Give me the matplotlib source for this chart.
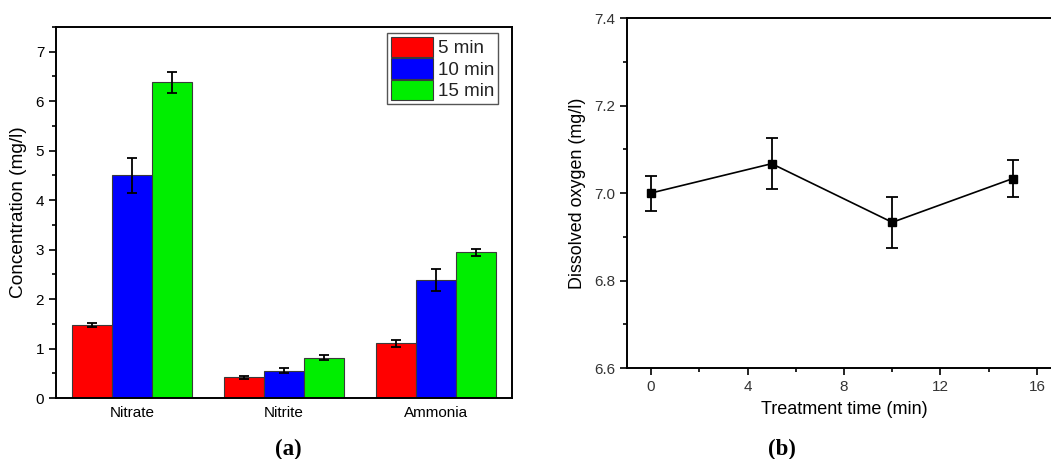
import numpy as np
import matplotlib
matplotlib.use('Agg')
import matplotlib.pyplot as plt
from matplotlib.ticker import MultipleLocator

plt.rcParams['font.family'] = ['Liberation Sans', 'DejaVu Sans']

# (a) 浓度柱状图数据
species = ['Nitrate', 'Nitrite', 'Ammonia']
series_names = ['5 min', '10 min', '15 min']
conc_5 = [1.47, 0.42, 1.11]
conc_10 = [4.50, 0.55, 2.39]
conc_15 = [6.38, 0.81, 2.95]
err_5 = [0.04, 0.03, 0.07]
err_10 = [0.35, 0.05, 0.22]
err_15 = [0.21, 0.05, 0.07]
bar_colors = ['#ff0000', '#0000ff', '#00ee00']

# (b) 溶解氧数据
treat_time = [0, 5, 10, 15]
dissolved_o2 = [7.000, 7.067, 6.933, 7.033]
do_err = [0.040, 0.058, 0.058, 0.042]

fig = plt.figure(figsize=(10.51, 4.59), dpi=100)
W, H = 1051, 459

# 面板 a
ax1 = fig.add_axes([56 / W, 1 - 398 / H, 456 / W, 371 / H])
x = np.arange(1, len(species) + 1)
bw = 0.265
for k, (vals, errs) in enumerate([(conc_5, err_5), (conc_10, err_10), (conc_15, err_15)]):
    ax1.bar(x + (k - 1) * bw, vals, width=bw, color=bar_colors[k],
            edgecolor='#3a3a3a', linewidth=0.8, label=series_names[k],
            yerr=errs, capsize=3.5, error_kw=dict(elinewidth=1.3, capthick=1.3, ecolor='black'))
ax1.set_xlim(0.5, 3.5)
ax1.set_ylim(0, 7.5)
ax1.set_xticks(x)
ax1.set_xticklabels(species)
ax1.yaxis.set_major_locator(MultipleLocator(1))
ax1.yaxis.set_minor_locator(MultipleLocator(0.5))
ax1.tick_params(axis='y', which='major', direction='out', length=5, width=1.2, labelsize=11)
ax1.tick_params(axis='y', which='minor', direction='out', length=3, width=1.2)
ax1.tick_params(axis='x', length=0, labelsize=11, pad=6)
ax1.set_ylabel('Concentration (mg/l)', fontsize=13.7, labelpad=6)
for sp in ax1.spines.values():
    sp.set_linewidth(1.4)
leg = ax1.legend(loc='upper right', bbox_to_anchor=((498 - 56) / 456, (398 - 33) / 371),
                 fontsize=13.5, handlelength=2.25, handleheight=1.3,
                 handletextpad=0.25, borderpad=0.2, labelspacing=0.05,
                 fancybox=False, framealpha=1, borderaxespad=0)
leg.get_frame().set_edgecolor('#555555')
leg.get_frame().set_linewidth(1.0)
for t in leg.get_texts():
    t.set_color('#222222')

# 面板 b
ax2 = fig.add_axes([627 / W, 1 - 368 / H, 434 / W, 350 / H])
ax2.errorbar(treat_time, dissolved_o2, yerr=do_err, color='black', marker='s',
             markersize=6, linewidth=1.2, capsize=4, elinewidth=1.3, capthick=1.3)
ax2.set_xlim(-1, 17)
ax2.set_ylim(6.6, 7.4)
ax2.xaxis.set_major_locator(MultipleLocator(4))
ax2.xaxis.set_minor_locator(MultipleLocator(2))
ax2.yaxis.set_major_locator(MultipleLocator(0.2))
ax2.yaxis.set_minor_locator(MultipleLocator(0.1))
ax2.yaxis.set_major_formatter(plt.FormatStrFormatter('%.1f'))
ax2.tick_params(which='major', direction='out', length=5, width=1.2, labelsize=11,
                labelcolor='#333333')
ax2.tick_params(which='minor', direction='out', length=3, width=1.2)
ax2.set_xlabel('Treatment time (min)', fontsize=13, labelpad=5)
ax2.set_ylabel('Dissolved oxygen (mg/l)', fontsize=12.9, labelpad=6)
for sp in ax2.spines.values():
    sp.set_linewidth(1.4)

# 子图标注
fig.text(288 / W, 1 - 449 / H, '(a)', ha='center', va='center', fontsize=16.5,
         fontweight='bold', family=['Liberation Serif', 'DejaVu Serif'])
fig.text(782 / W, 1 - 449 / H, '(b)', ha='center', va='center', fontsize=16.5,
         fontweight='bold', family=['Liberation Serif', 'DejaVu Serif'])

fig.savefig('out.png', dpi=100)
